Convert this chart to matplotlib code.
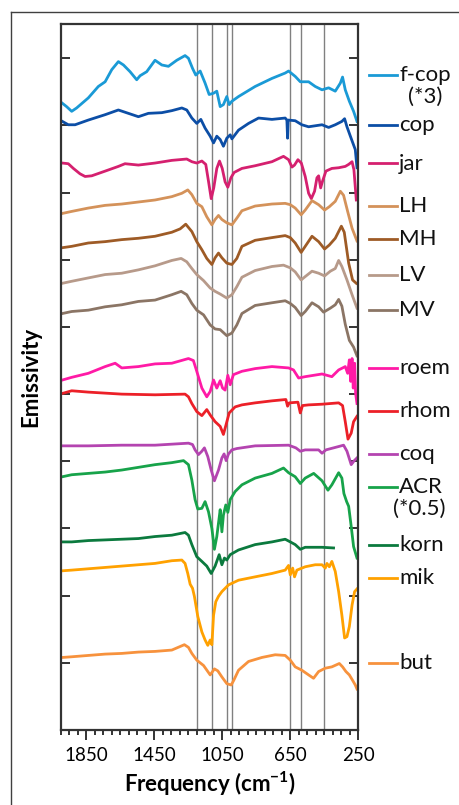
import matplotlib.pyplot as plt
from matplotlib.lines import Line2D
from matplotlib.ticker import FixedLocator, MultipleLocator

plt.rcParams['font.family'] = ['Lato', 'DejaVu Sans']
plt.rcParams['mathtext.default'] = 'regular'

# emissivity spectra, stacked with an offset (freq in cm-1)
fcop_freq = [1992, 1967, 1937, 1908, 1839, 1780, 1740, 1701, 1662, 1632, 1593, 1554, 1534, 1495, 1446, 1406, 1367,
             1318, 1269, 1249, 1225, 1206, 1180, 1151, 1127, 1101, 1082, 1062, 1043, 1023, 1009, 993, 954, 856, 757,
             679, 659, 620, 590, 541, 502, 462, 423, 384, 354, 341, 325, 301, 276, 256]
fcop_emis = [9.33, 9.28, 9.21, 9.26, 9.41, 9.58, 9.65, 9.83, 9.95, 9.90, 9.80, 9.68, 9.74, 9.80, 9.97, 9.90, 9.88,
             9.97, 10.04, 10.00, 9.85, 9.75, 9.81, 9.63, 9.46, 9.48, 9.51, 9.28, 9.31, 9.43, 9.31, 9.36, 9.43, 9.58,
             9.70, 9.78, 9.81, 9.73, 9.65, 9.65, 9.58, 9.53, 9.56, 9.51, 9.63, 9.72, 9.53, 9.36, 9.21, 9.06]

cop_freq = [1992, 1957, 1917, 1839, 1740, 1662, 1603, 1544, 1485, 1406, 1347, 1288, 1259, 1229, 1200, 1176, 1151, 1121,
            1101, 1082, 1062, 1043, 1023, 1003, 993, 954, 895, 836, 757, 679, 669, 665, 661, 620, 581, 541, 462, 423,
            384, 345, 329, 315, 295, 266, 256]
cop_emis = [9.06, 9.01, 9.01, 9.08, 9.16, 9.23, 9.18, 9.13, 9.18, 9.19, 9.22, 9.26, 9.23, 9.11, 9.03, 9.09, 8.96, 8.84,
            8.74, 8.84, 8.79, 8.69, 8.81, 8.86, 8.80, 8.93, 9.03, 9.11, 9.09, 9.11, 9.08, 8.81, 9.08, 9.07, 9.01, 8.98,
            9.01, 8.97, 9.01, 9.06, 9.10, 8.98, 8.84, 8.64, 8.37]

jar_freq = [1992, 1957, 1927, 1888, 1858, 1819, 1740, 1662, 1623, 1544, 1446, 1347, 1259, 1229, 1200, 1170, 1147, 1131,
            1115, 1100, 1082, 1066, 1050, 1033, 1017, 999, 980, 934, 856, 757, 689, 659, 639, 624, 604, 584, 561, 541,
            525, 506, 492, 482, 470, 459, 439, 404, 364, 325, 305, 285, 274, 260]
jar_emis = [8.44, 8.43, 8.36, 8.28, 8.24, 8.25, 8.32, 8.39, 8.43, 8.41, 8.44, 8.48, 8.50, 8.46, 8.44, 8.47, 8.42, 8.17,
            7.91, 8.07, 8.36, 8.47, 8.36, 8.16, 8.08, 8.22, 8.30, 8.36, 8.40, 8.46, 8.54, 8.49, 8.38, 8.41, 8.49, 8.44,
            8.24, 7.99, 7.91, 8.02, 8.22, 8.25, 8.07, 8.17, 8.32, 8.36, 8.37, 8.39, 8.42, 8.46, 8.34, 7.89]

lh_freq = [1992, 1937, 1839, 1740, 1642, 1544, 1446, 1347, 1288, 1253, 1229, 1200, 1170, 1141, 1111, 1092, 1072, 1052,
           1023, 993, 964, 934, 856, 757, 679, 649, 620, 585, 561, 521, 482, 447, 419, 384, 354, 335, 311, 285, 256]
lh_emis = [7.69, 7.72, 7.77, 7.81, 7.83, 7.86, 7.89, 7.94, 7.99, 8.04, 7.97, 7.84, 7.79, 7.64, 7.52, 7.60, 7.66, 7.60,
           7.55, 7.52, 7.62, 7.73, 7.80, 7.83, 7.84, 7.82, 7.77, 7.67, 7.74, 7.88, 7.82, 7.74, 7.79, 7.87, 8.02, 7.96,
           7.72, 7.47, 7.28]

mh_freq = [1992, 1937, 1839, 1740, 1642, 1544, 1446, 1347, 1298, 1265, 1229, 1200, 1170, 1141, 1111, 1092, 1072, 1052,
           1023, 993, 964, 934, 856, 757, 679, 649, 620, 585, 561, 521, 482, 447, 419, 384, 348, 331, 305, 282, 260]
mh_emis = [7.18, 7.20, 7.25, 7.27, 7.30, 7.32, 7.35, 7.41, 7.46, 7.53, 7.42, 7.27, 7.15, 7.02, 6.93, 7.03, 7.10, 7.03,
           6.95, 6.93, 7.02, 7.20, 7.29, 7.33, 7.36, 7.33, 7.25, 7.11, 7.20, 7.35, 7.27, 7.16, 7.22, 7.32, 7.50, 7.41,
           6.95, 6.70, 6.65]

lv_freq = [1992, 1937, 1839, 1740, 1642, 1544, 1446, 1347, 1292, 1259, 1229, 1200, 1160, 1121, 1092, 1062, 1023, 993,
           964, 934, 856, 757, 689, 649, 620, 585, 561, 521, 482, 447, 413, 384, 364, 345, 315, 285, 256]
lv_emis = [6.65, 6.68, 6.73, 6.78, 6.80, 6.85, 6.91, 6.99, 7.02, 6.97, 6.87, 6.78, 6.69, 6.58, 6.53, 6.49, 6.43, 6.48,
           6.60, 6.74, 6.84, 6.90, 6.92, 6.88, 6.82, 6.70, 6.75, 6.83, 6.80, 6.76, 6.83, 6.87, 6.99, 6.90, 6.70, 6.48,
           6.28]

mv_freq = [1992, 1937, 1839, 1740, 1642, 1544, 1446, 1347, 1292, 1259, 1229, 1200, 1160, 1121, 1092, 1062, 1023, 993,
           964, 934, 856, 757, 679, 649, 620, 585, 561, 521, 482, 453, 413, 384, 364, 345, 325, 301, 276, 256]
mv_emis = [6.20, 6.23, 6.25, 6.30, 6.33, 6.38, 6.40, 6.48, 6.53, 6.48, 6.35, 6.25, 6.18, 6.03, 5.97, 5.96, 5.87, 5.91,
           6.03, 6.20, 6.32, 6.36, 6.39, 6.35, 6.29, 6.17, 6.23, 6.36, 6.30, 6.22, 6.28, 6.33, 6.41, 6.31, 6.04, 5.80,
           5.70, 5.57]

roem_freq = [1992, 1937, 1839, 1740, 1681, 1642, 1544, 1446, 1347, 1249, 1220, 1200, 1170, 1141, 1121, 1101, 1082,
             1062, 1048, 1033, 1017, 1003, 984, 934, 856, 757, 659, 630, 600, 561, 462, 404, 364, 325, 311, 301, 293,
             285, 278, 270, 264, 256]
roem_emis = [5.21, 5.25, 5.31, 5.41, 5.46, 5.39, 5.41, 5.45, 5.46, 5.53, 5.50, 5.34, 5.09, 4.96, 5.04, 5.21, 5.09,
             5.20, 5.09, 5.06, 5.28, 5.14, 5.29, 5.34, 5.38, 5.41, 5.39, 5.36, 5.24, 5.26, 5.30, 5.26, 5.36, 5.41, 5.31,
             5.51, 5.19, 5.53, 5.09, 5.46, 5.01, 4.86]

rhom_freq = [1992, 1937, 1839, 1642, 1446, 1269, 1249, 1229, 1200, 1170, 1141, 1121, 1092, 1062, 1043, 1029, 1009, 974,
             934, 856, 757, 675, 665, 655, 604, 590, 577, 541, 462, 364, 341, 325, 309, 290, 276, 256]
rhom_emis = [5.01, 5.05, 5.03, 5.00, 4.99, 5.00, 4.96, 4.86, 4.74, 4.68, 4.77, 4.69, 4.59, 4.52, 4.40, 4.53, 4.72, 4.81,
             4.84, 4.87, 4.90, 4.92, 4.82, 4.87, 4.88, 4.72, 4.83, 4.84, 4.85, 4.87, 4.83, 4.59, 4.33, 4.42, 4.59, 4.67]

coq_freq = [1992, 1839, 1642, 1446, 1249, 1225, 1210, 1190, 1170, 1155, 1135, 1115, 1096, 1072, 1052, 1039, 1027, 1013,
            993, 964, 856, 659, 616, 590, 561, 482, 462, 439, 364, 335, 315, 290, 272, 256]
coq_emis = [4.23, 4.23, 4.24, 4.24, 4.27, 4.25, 4.17, 4.10, 4.15, 4.20, 4.07, 3.87, 3.71, 3.87, 4.05, 4.11, 4.01, 4.11,
            4.17, 4.19, 4.23, 4.24, 4.20, 4.15, 4.17, 4.17, 4.12, 4.17, 4.22, 4.24, 4.15, 3.95, 4.01, 4.05]

acr_freq = [1992, 1937, 1839, 1740, 1642, 1544, 1446, 1347, 1278, 1249, 1229, 1210, 1194, 1170, 1151, 1131, 1111, 1096,
            1082, 1072, 1062, 1052, 1043, 1029, 1017, 1003, 974, 934, 856, 757, 689, 659, 620, 590, 561, 511, 462, 427,
            404, 364, 345, 333, 317, 305, 290, 276, 256]
acr_emis = [3.77, 3.80, 3.82, 3.84, 3.87, 3.91, 3.95, 3.98, 4.01, 3.95, 3.72, 3.43, 3.29, 3.30, 3.40, 3.25, 3.00, 2.69,
            2.88, 3.08, 3.28, 2.95, 3.20, 3.35, 3.24, 3.43, 3.55, 3.65, 3.75, 3.82, 3.90, 3.83, 3.77, 3.67, 3.75, 3.82,
            3.71, 3.57, 3.65, 3.83, 3.75, 3.52, 3.40, 3.33, 3.03, 2.73, 2.56]

korn_freq = [1992, 1937, 1839, 1740, 1642, 1544, 1446, 1347, 1269, 1249, 1229, 1200, 1170, 1141, 1115, 1092, 1068,
             1052, 1037, 1023, 1003, 954, 856, 757, 679, 649, 620, 590, 561, 462, 394]
korn_emis = [2.80, 2.80, 2.82, 2.83, 2.84, 2.85, 2.88, 2.90, 2.94, 2.90, 2.76, 2.58, 2.51, 2.44, 2.33, 2.44, 2.61,
             2.46, 2.56, 2.53, 2.61, 2.68, 2.76, 2.80, 2.84, 2.80, 2.76, 2.69, 2.72, 2.72, 2.71]

mik_freq = [1992, 1937, 1839, 1740, 1642, 1544, 1446, 1347, 1288, 1269, 1253, 1239, 1225, 1214, 1194, 1170, 1151, 1135,
            1121, 1111, 1101, 1088, 1072, 1052, 1013, 954, 856, 757, 679, 659, 649, 635, 624, 610, 561, 502, 462, 443,
            433, 419, 404, 384, 364, 345, 329, 315, 301, 285, 270, 256]
mik_emis = [2.37, 2.38, 2.40, 2.42, 2.44, 2.46, 2.48, 2.52, 2.53, 2.48, 2.33, 2.17, 2.11, 1.99, 1.69, 1.46, 1.34, 1.26,
            1.34, 1.27, 1.71, 1.91, 1.99, 2.06, 2.16, 2.23, 2.28, 2.33, 2.38, 2.45, 2.31, 2.41, 2.28, 2.38, 2.43, 2.46,
            2.46, 2.41, 2.48, 2.43, 2.51, 2.36, 2.06, 1.71, 1.37, 1.39, 1.54, 1.86, 2.06, 2.10]

but_freq = [1992, 1937, 1839, 1740, 1642, 1544, 1446, 1347, 1273, 1249, 1229, 1200, 1160, 1121, 1096, 1076, 1052, 1023,
            997, 982, 954, 895, 816, 738, 679, 649, 620, 581, 541, 512, 482, 443, 404, 360, 341, 321, 301, 282, 266, 256]
but_emis = [1.08, 1.09, 1.11, 1.13, 1.14, 1.16, 1.17, 1.19, 1.27, 1.23, 1.14, 1.04, 0.96, 0.82, 0.91, 0.88, 0.79, 0.69,
            0.67, 0.74, 0.89, 1.02, 1.08, 1.12, 1.11, 1.04, 0.94, 0.89, 0.82, 0.77, 0.87, 0.92, 0.94, 0.99, 0.94, 0.87,
            0.82, 0.74, 0.67, 0.61]

samples = ['f-cop', 'cop', 'jar', 'LH', 'MH', 'LV', 'MV', 'roem', 'rhom', 'coq', 'ACR', 'korn', 'mik', 'but']
scale_notes = {'f-cop': '(*3)', 'ACR': '(*0.5)'}
freqs = [fcop_freq, cop_freq, jar_freq, lh_freq, mh_freq, lv_freq, mv_freq, roem_freq, rhom_freq, coq_freq,
         acr_freq, korn_freq, mik_freq, but_freq]
emis = [fcop_emis, cop_emis, jar_emis, lh_emis, mh_emis, lv_emis, mv_emis, roem_emis, rhom_emis, coq_emis,
        acr_emis, korn_emis, mik_emis, but_emis]
colors = ['#1a9ad6', '#0c4ea6', '#d5206f', '#d4925a', '#9e5b26', '#b79a8a', '#8b7565', '#ff1aa6', '#ec2028',
          '#b444b0', '#17a34a', '#0b7a3e', '#ffa100', '#f7923d']

# reference band positions (cm-1)
band_lines = [1200, 1111, 1023, 990, 648, 586, 451]

# legend rows, in pixels from the top of the figure
legend_rows = [75, 125, 163.5, 206, 239, 275, 310, 368, 411, 454, 487, 545, 578, 663]

W, H = 459, 805
fig = plt.figure(figsize=(W / 100, H / 100), dpi=100)
ax = fig.add_axes([61 / W, 1 - 730 / H, 297 / W, 706 / H])

for b in band_lines:
    ax.axvline(b, color='#808080', lw=1.0, zorder=1)

for f, e, c in zip(freqs, emis, colors):
    ax.plot(f, e, color=c, lw=2.0, zorder=2, solid_joinstyle='round')

ax.set_xlim(2000, 250)
ax.set_ylim(0, 10.51)
ax.xaxis.set_major_locator(FixedLocator([1850, 1450, 1050, 650, 250]))
ax.xaxis.set_minor_locator(MultipleLocator(50))
ax.yaxis.set_major_locator(MultipleLocator(1))

ax.tick_params(axis='x', which='major', direction='out', length=7, width=1.4, color='#333333',
               labelsize=13.5, pad=5)
ax.tick_params(axis='x', which='minor', direction='out', length=3.6, width=1.4, color='#333333')
ax.tick_params(axis='y', direction='in', length=6.5, width=1.4, color='#333333',
               left=True, right=True, labelleft=False)
for sp in ax.spines.values():
    sp.set_color('#333333')
    sp.set_linewidth(1.6)

ax.set_xlabel('Frequency (cm$^{-1}$)', fontsize=16, fontweight='bold', labelpad=4)
ax.set_ylabel('Emissivity', fontsize=16, fontweight='bold', labelpad=14)

# legend drawn beside the axes
for name, c, ypx in zip(samples, colors, legend_rows):
    y = 1 - ypx / H
    fig.add_artist(Line2D([369 / W, 397 / W], [y, y], transform=fig.transFigure, color=c, lw=2.0))
    fig.text(399 / W, y, name, fontsize=16, ha='left', va='center', color='#111111')
    if name in scale_notes:
        cx = 425 / W if name == 'f-cop' else 419 / W
        fig.text(cx, y - 22 / H, scale_notes[name], fontsize=16, ha='center', va='center', color='#111111')

# outer frame
fig.add_artist(Line2D([11 / W, 11 / W], [0, 1 - 12 / H], transform=fig.transFigure, color='#404040', lw=1.0))
fig.add_artist(Line2D([11 / W, 1], [1 - 12 / H, 1 - 12 / H], transform=fig.transFigure, color='#404040', lw=1.0))

fig.savefig('out.png', dpi=100)
